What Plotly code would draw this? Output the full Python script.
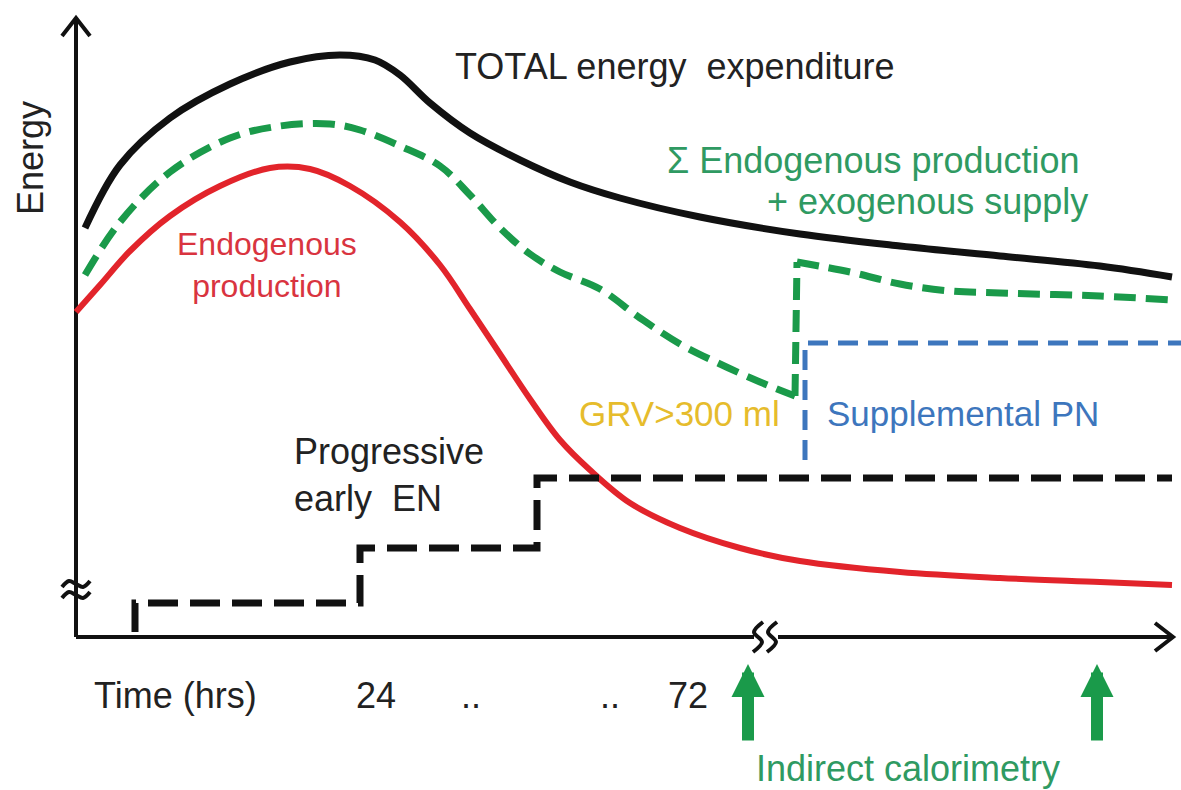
import plotly.graph_objects as go

# schematic drawn in picture units (x to the right, y downwards)
W, H = 1181, 790

total_x = [85, 120, 170, 230, 290, 340, 375, 400, 430, 470, 520, 570, 620, 700, 800, 900, 1000, 1100, 1172]
total_y = [228, 165, 118, 84, 62, 55, 60, 75, 103, 133, 160, 182, 198, 217, 234, 246, 256, 266, 277]

sum_x = [85, 120, 170, 230, 280, 330, 360, 400, 440, 470, 500, 530, 560, 600, 640, 680, 720, 760, 795, 797, 850, 900, 950, 1000, 1100, 1172]
sum_y = [275, 222, 172, 138, 126, 124, 130, 146, 166, 195, 228, 254, 272, 289, 318, 344, 364, 382, 396, 262, 272, 284, 291, 293, 296, 300]

endo_x = [76, 100, 130, 170, 220, 270, 310, 350, 400, 440, 470, 500, 530, 560, 590, 630, 680, 740, 800, 900, 1000, 1100, 1172]
endo_y = [312, 285, 251, 216, 186, 168, 169, 186, 222, 265, 309, 354, 399, 440, 470, 503, 528, 548, 561, 572, 578, 582, 585]

en_x = [135, 135, 360, 360, 537, 537, 1172]
en_y = [632, 603, 603, 548, 548, 478, 478]

pn_x = [805, 805, 1181]
pn_y = [460, 343, 343]

time_labels = ["Time (hrs)", "24", "..", "..", "72"]
time_pos = [175, 376, 471, 610, 688]

calor_x = [748, 1097]

BLACK = "#111111"
GREEN = "#1a9a4a"
GREEN_TXT = "#2f9a62"
RED = "#e2242b"
RED_TXT = "#d9343f"
BLUE = "#3d76bd"
YELLOW = "#e6bc2c"
FONT = "Liberation Sans, Arial, sans-serif"

fig = go.Figure()


def line(x, y, color, width, dash="solid", shape="linear"):
    fig.add_trace(go.Scatter(x=x, y=y, mode="lines", hoverinfo="skip",
                             line=dict(color=color, width=width, dash=dash, shape=shape)))


# axes
line([76, 76], [637, 20], BLACK, 4)
line([62, 76, 90], [36, 18, 36], BLACK, 4)
line([76, 754], [637, 637], BLACK, 4)
line([778, 1172], [637, 637], BLACK, 4)
line([1155, 1173, 1155], [623, 637, 651], BLACK, 4)

# axis breaks (wavy marks)
for bx in [758, 772]:
    line([bx + 5, bx - 4, bx + 4, bx - 5], [622, 632, 642, 652], BLACK, 4, shape="spline")
for by in [584, 595]:
    line([62, 69, 76, 83, 90], [by + 3, by - 3, by, by + 3, by - 3], BLACK, 4, shape="spline")

# curves
line(total_x, total_y, BLACK, 7, shape="spline")
line(endo_x, endo_y, RED, 6, shape="spline")
line(pn_x, pn_y, BLUE, 5, dash="20px,10px")
line(sum_x[:19], sum_y[:19], GREEN, 7, dash="22px,10px", shape="spline")
line(sum_x[18:20], sum_y[18:20], GREEN, 7, dash="22px,10px")
line(sum_x[19:], sum_y[19:], GREEN, 7, dash="22px,10px", shape="spline")
line(en_x, en_y, BLACK, 7, dash="30px,12px")

fig.update_layout(
    width=W, height=H,
    margin=dict(l=0, r=0, t=0, b=0),
    plot_bgcolor="white", paper_bgcolor="white",
    showlegend=False,
    font=dict(family=FONT, size=36, color="#222222"),
    xaxis=dict(range=[0, W], visible=False, fixedrange=True),
    yaxis=dict(range=[H, 0], visible=False, fixedrange=True),
)


def label(x, y, text, color="#222222", size=36, xanchor="center", align="center", angle=0):
    fig.add_annotation(x=x, y=y, text=text, showarrow=False, xanchor=xanchor,
                       yanchor="middle", align=align, textangle=angle,
                       font=dict(family=FONT, size=size, color=color))


label(30, 158, "Energy", angle=-90)
label(675, 66, "TOTAL energy  expenditure")
label(1082, 160, "Σ Endogenous production", GREEN_TXT, xanchor="right")
label(1090, 201, "+ exogenous supply", GREEN_TXT, xanchor="right")
label(267, 265, "Endogenous<br>production", RED_TXT, size=32)
label(679, 413, "GRV>300 ml", YELLOW, size=35)
label(963, 413, "Supplemental PN", BLUE, size=35)
label(292, 475, "Progressive<br>early  EN", xanchor="left", align="left")
for t, px in zip(time_labels, time_pos):
    label(px, 695, t)
label(908, 768, "Indirect calorimetry", GREEN_TXT)

# indirect calorimetry arrows
for cx in calor_x:
    fig.add_annotation(x=cx, y=664, ax=cx, ay=742, xref="x", yref="y", axref="x", ayref="y",
                       showarrow=True, arrowhead=2, arrowsize=0.55, arrowwidth=12,
                       arrowcolor=GREEN, text="")

fig.write_html("out.html", config={"displayModeBar": False},
               post_script="document.body.style.margin='0';")
